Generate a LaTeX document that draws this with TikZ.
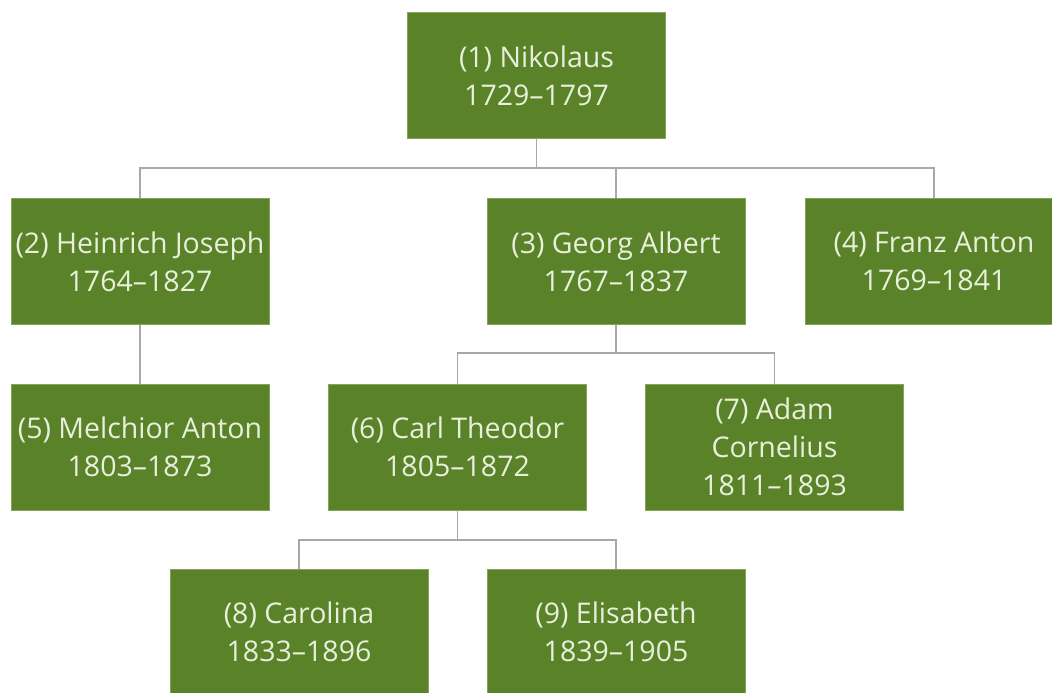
\documentclass[tikz,border=0pt]{standalone}
\usepackage{fontspec}
\setmainfont{Open Sans}
\definecolor{boxgreen}{RGB}{90,130,40}
\definecolor{boxedge}{RGB}{130,165,90}
\definecolor{boxtext}{RGB}{232,240,220}
\definecolor{linkgrey}{RGB}{168,168,168}
\begin{document}
\begin{tikzpicture}[x=1pt,y=-1pt,
  person/.style={rectangle, fill=boxgreen, draw=boxedge, line width=0.8pt,
    minimum width=258pt, minimum height=126pt, inner sep=0pt, align=center,
    text=boxtext, font=\fontsize{28.5}{38}\selectfont},
  link/.style={draw=linkgrey, line width=1.8pt}]
\useasboundingbox (0,0) rectangle (1052,693);
\begin{scope}
\clip (0,0) rectangle (1052,693);
\node[person] (n1) at (536.5,75.5) {(1) Nikolaus\\1729–1797};
\node[person] (n2) at (140,261.5) {(2) Heinrich Joseph\\1764–1827};
\node[person] (n3) at (616,261.5) {(3) Georg Albert\\1767–1837};
\node[person] (n4) at (934,261.5) {(4) Franz Anton\\1769–1841};
\node[person] (n5) at (140,447) {(5) Melchior Anton\\1803–1873};
\node[person] (n6) at (457.5,447) {(6) Carl Theodor\\1805–1872};
\node[person] (n7) at (774.5,447) {(7) Adam\\Cornelius\\1811–1893};
\node[person] (n8) at (299,632) {(8) Carolina\\1833–1896};
\node[person] (n9) at (616,632) {(9) Elisabeth\\1839–1905};
\coordinate (j1) at (536.5,168);
\coordinate (j3) at (616,353);
\coordinate (j6) at (457.5,540);
\draw[link] (n1.south) -- (j1);
\draw[link] (n2.north) |- (j1);
\draw[link] (n4.north) |- (j1);
\draw[link] (n3.north) -- (n3.north |- j1);
\draw[link] (n2.south) -- (n5.north);
\draw[link] (n3.south) -- (j3);
\draw[link] (n6.north) |- (j3);
\draw[link] (n7.north) |- (j3);
\draw[link] (n6.south) -- (j6);
\draw[link] (n8.north) |- (j6);
\draw[link] (n9.north) |- (j6);
\end{scope}
\end{tikzpicture}
\end{document}
